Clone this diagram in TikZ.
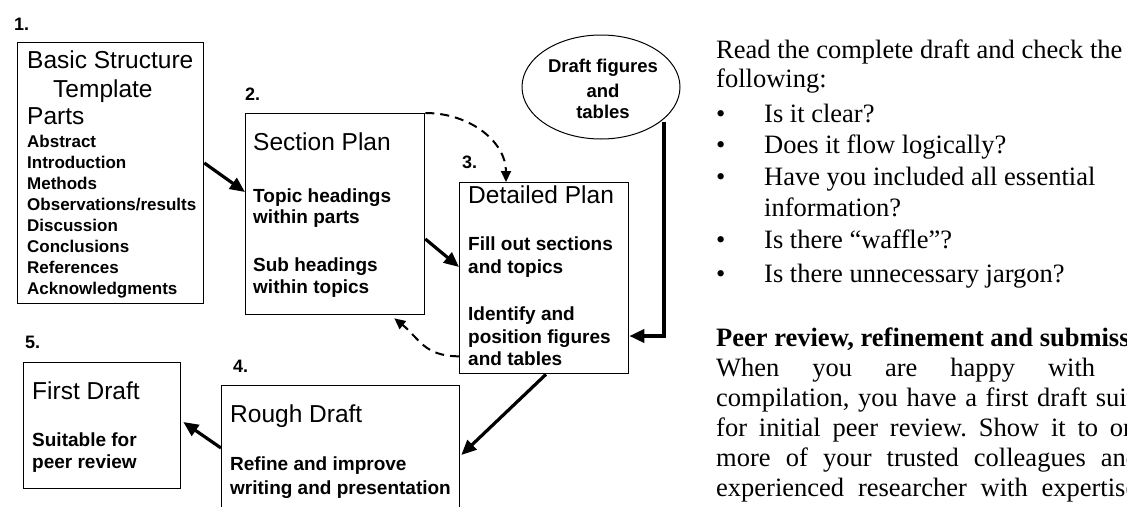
\documentclass[tikz,border=0pt]{standalone}
\usepackage{fontspec}
\setmainfont{Liberation Serif}
\newfontfamily\arial{Liberation Sans}
\usetikzlibrary{shapes.geometric,arrows.meta,calc}
\tikzset{
  box/.style={draw, line width=1.3pt, anchor=north west, inner sep=0pt},
  lbl/.style={anchor=base west, inner sep=0pt},
  num/.style={lbl, font=\arial\bfseries\fontsize{18}{20}\selectfont},
  head/.style={lbl, font=\arial\fontsize{24.5}{28}\selectfont},
  sub/.style={lbl, font=\arial\bfseries\fontsize{19}{22}\selectfont},
  part/.style={lbl, font=\arial\bfseries\fontsize{17}{20}\selectfont},
  body/.style={lbl, font=\fontsize{26.5}{30}\selectfont\frenchspacing},
  flow/.style={line width=3.2pt, -{Triangle[length=15pt,width=13pt]}},
  back/.style={line width=2pt, dash pattern=on 9pt off 6pt, -{Triangle[length=11pt,width=10pt]}},
}
\begin{document}
\begin{tikzpicture}[x=1pt,y=-1pt]
\useasboundingbox (0,0) rectangle (1127,506);
\clip (0,0) rectangle (1127,506);

\node[box, minimum width=186pt, minimum height=261pt] (parts) at (17,42) {};
\node[box, minimum width=179pt, minimum height=201pt] (section) at (245,113) {};
\node[box, minimum width=169pt, minimum height=191pt] (detail) at (459,182) {};
\node[box, minimum width=238pt, minimum height=140pt] (rough) at (221,385) {};
\node[box, minimum width=157pt, minimum height=126pt] (first) at (23,362) {};
\node[draw, ellipse, line width=1pt, minimum width=158pt, minimum height=104pt, inner sep=0pt] (figs) at (601,87) {};
\foreach \y/\t [count=\i] in {72/Draft figures, 97/and, 118/tables}
  \node[anchor=base, inner sep=0pt, font=\arial\bfseries\fontsize{18.5}{22}\selectfont] (fig\i) at (603,\y) {\t};

\foreach \x/\y/\t [count=\i] in {14/30/1., 245/100/2., 462/168/3., 233/372/4., 25/348/5.}
  \node[num] (num\i) at (\x,\y) {\t};
\foreach \x/\y/\t [count=\i] in {27/68/Basic Structure, 53/97/Template, 27/124/Parts,
    253/150/Section Plan, 468/203/Detailed Plan, 230/422/Rough Draft, 32/399/First Draft}
  \node[head] (head\i) at (\x,\y) {\t};
\foreach \y/\t [count=\i] in {147/Abstract, 168/Introduction, 189/Methods, 210/{Observations/results},
    231/Discussion, 252/Conclusions, 273/References, 294/Acknowledgments}
  \node[part] (part\i) at (27,\y) {\t};
\foreach \x/\y/\t [count=\i] in {253/202/Topic headings, 253/223/within parts, 253/271/Sub headings, 253/293/within topics,
    468/250/Fill out sections, 468/273/and topics, 468/320/Identify and, 468/343/position figures, 468/365/and tables,
    230/470/Refine and improve, 230/494/writing and presentation, 32/446/Suitable for, 32/468/peer review}
  \node[sub] (sub\i) at (\x,\y) {\t};

\draw[flow] ($(parts.north east)+(0,121)$) -- ($(section.north west)+(0,79)$);
\draw[flow] ($(section.north east)+(0,126)$) -- ($(detail.north west)+(0,85)$);
\draw[flow] ($(detail.south west)+(87,0)$) -- ($(rough.north east)+(1,70)$);
\draw[flow] ($(rough.north west)+(0,63)$) -- ($(first.north east)+(2,60)$);
\draw[back] (section.north east) .. controls +(45,0) and +(0,-40) .. ($(detail.north west)+(47,0)$);
\draw[back] ($(detail.south west)+(0,-18)$) .. controls +(-35,0) and +(25,20) .. ($(section.south east)+(-31,3)$);
\coordinate (feed) at (664,336);
\draw[flow, line width=3.6pt] (figs.-30 -| feed) -- (feed) -- (feed -| detail.east);

\node[body] (read) at (716,58) {Read the complete draft and check the};
\node[body] (follow) at (716,87) {following:};
\foreach \y/\t [count=\i] in {122/Is it clear?, 153/Does it flow logically?, 185/Have you included all essential,
    248/Is there “waffle”?, 282/Is there unnecessary jargon?} {
  \node[body] (dot\i) at (716,\y) {\textbullet};
  \node[body] (ask\i) at (764,\y) {\t};
}
\node[body] (ask6) at (764,216) {information?};
\node[body, font=\fontsize{26.5}{30}\selectfont\bfseries] (peer) at (716,346) {Peer review, refinement and submission};
\foreach \y/\bw/\t [count=\i] in {376/379/When you are happy with, 406/462/{compilation, you have a first draft suitable},
    436/432/for initial peer review. Show it to one, 466/423/more of your trusted colleagues and,
    496/421/experienced researcher with expertise}
  \node[body] (para\i) at (716,\y) {\makebox[\bw pt][s]{\t}};
\end{tikzpicture}
\end{document}
